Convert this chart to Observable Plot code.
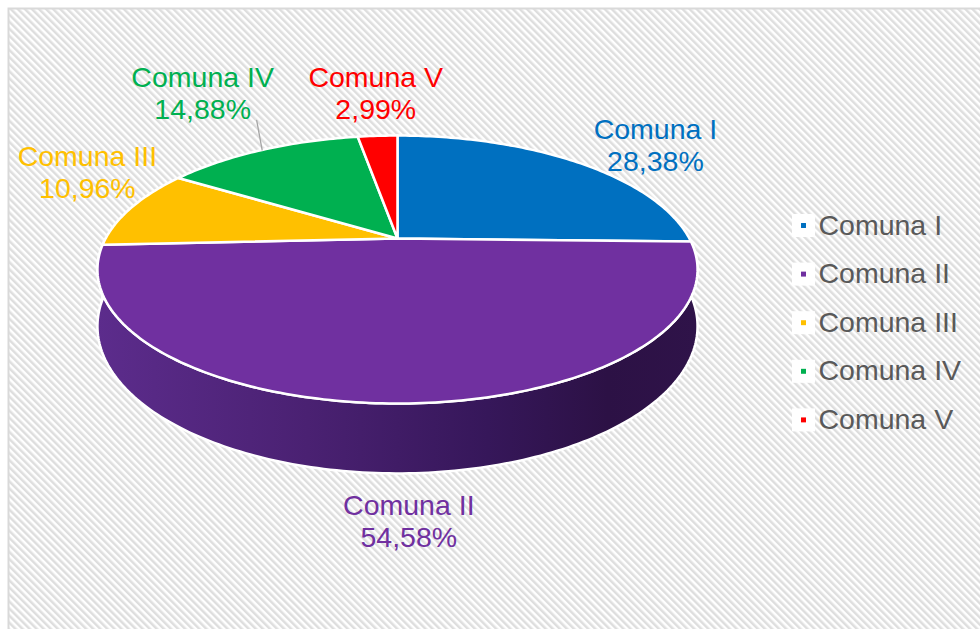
<!DOCTYPE html>
<html>
<head>
<meta charset="utf-8">
<script src="https://cdn.jsdelivr.net/npm/d3@7"></script>
<script src="https://cdn.jsdelivr.net/npm/@observablehq/plot@0.6"></script>
<style>
  html, body { margin: 0; padding: 0; background: #fff; }
  #chart svg { display: block; }
</style>
</head>
<body>
<div id="chart"></div>
<script>
// ---------- data ----------
const categories = ["Comuna I", "Comuna II", "Comuna III", "Comuna IV", "Comuna V"];
const values = [28.38, 54.58, 10.96, 14.88, 2.99];
const colors = ["#0070c0", "#7030a0", "#ffc000", "#00b050", "#ff0000"];

// ---------- layout (pie geometry, label placement) ----------
const W = 980, H = 629;
const CX = 397, CY = 238;      // centre of the pie on the page
const SX = 291.9, SY = 126.8;  // pixels per radius unit (horizontal / vertical)
const K = 0.2314;              // perspective strength of the tilted disc
const DEPTH = 0.424;           // thickness of the pie (radius units)
// label anchor on the disc plane: radius (in pie radii) and angle (deg, clockwise from top)
const labelPlacement = [
  {r: 1.3925, a: 50.0},
  {r: 1.468,  a: 179.0},
  {r: 1.351,  a: 296.4},
  {r: 1.8145, a: 329.9},
  {r: 1.573,  a: 356.3}
];
const leaderLines = [{category: "Comuna IV", r: 1.336, a: 332.6}];
const legendLayout = {markerX: 803, textX: 818, top: 225, step: 48.6};

// ---------- geometry ----------
const rad = d => d * Math.PI / 180;
function project(theta, r = 1, drop = 0) {
  const u = r * Math.sin(rad(theta));
  const v = -r * Math.cos(rad(theta));
  const w = 1 - K * v;
  return {x: u / w, y: (v + drop) / w};
}
const fmt = v => v.toFixed(2).replace(".", ",") + "%";

const total = d3.sum(values);
let acc = 0;
const slices = categories.map((c, i) => {
  const a0 = acc / total * 360;
  acc += values[i];
  const a1 = acc / total * 360;
  return {category: c, value: values[i], color: colors[i], a0, a1, mid: (a0 + a1) / 2, i};
});

function arc(a0, a1, r = 1, drop = 0) {
  const n = Math.max(2, Math.ceil(Math.abs(a1 - a0)));
  return d3.range(n + 1).map(j => project(a0 + (a1 - a0) * j / n, r, drop));
}

const topPts = slices.flatMap(s => {
  const c = project(0, 0);
  return [c, ...arc(s.a0, s.a1), c].map(p => ({...p, id: s.category, color: s.color}));
});

const sidePts = slices.flatMap(s => {
  const b0 = Math.max(s.a0, 90), b1 = Math.min(s.a1, 270);
  if (b1 <= b0) return [];
  const top = arc(b0, b1, 1, 0);
  const bottom = arc(b1, b0, 1, DEPTH);
  return [...top, ...bottom, top[0]].map(p => ({...p, id: s.category}));
});

const labels = slices.map(s => {
  const p = project(labelPlacement[s.i].a, labelPlacement[s.i].r);
  return {...s, lx: p.x, ly: p.y, text: `${s.category}\n${fmt(s.value)}`};
});

const leaderPts = leaderLines.flatMap(l => {
  const s = slices.find(d => d.category === l.category);
  return [project(l.a, l.r), project(s.mid, 1)].map(p => ({...p, id: l.category}));
});

const ux = px => (px - CX) / SX, uy = py => (py - CY) / SY;
const legendRows = slices.map(s => ({
  ...s,
  mx: ux(legendLayout.markerX),
  tx: ux(legendLayout.textX),
  y: uy(legendLayout.top + s.i * legendLayout.step)
}));

const font = "'Liberation Sans', Arial, sans-serif";

const chart = Plot.plot({
  width: W,
  height: H,
  margin: 0,
  style: {fontFamily: font, background: "white"},
  x: {domain: [-CX / SX, (W - CX) / SX], range: [0, W], axis: null},
  y: {domain: [-CY / SY, (H - CY) / SY], range: [0, H], axis: null},
  color: {type: "identity"},
  marks: [
    Plot.frame({fill: "url(#hatch)", stroke: "#d9d9d9", strokeWidth: 2,
                insetLeft: 8, insetTop: 8, insetRight: -4, insetBottom: -4}),
    // side wall
    Plot.line(sidePts, {x: "x", y: "y", z: "id", fill: "url(#sideGrad)",
                        stroke: "white", strokeWidth: 2.5}),
    // top faces
    Plot.line(topPts, {x: "x", y: "y", z: "id", fill: "color",
                       stroke: "white", strokeWidth: 2.5}),
    // leader line
    Plot.line(leaderPts, {x: "x", y: "y", z: "id", stroke: "#a6a6a6", strokeWidth: 1.3}),
    // data labels
    Plot.text(labels, {x: "lx", y: "ly", text: "text", fill: "color",
                       fontSize: 28.5, lineHeight: 1.13, textAnchor: "middle"}),
    // legend
    Plot.dot(legendRows, {x: "mx", y: "y", symbol: "square", r: 13, fill: "white"}),
    Plot.dot(legendRows, {x: "mx", y: "y", symbol: "square", r: 2.8, fill: "color"}),
    Plot.text(legendRows, {x: "tx", y: "y", text: "category", textAnchor: "start",
                           fill: "#595959", fontSize: 28.5})
  ]
});

// pattern + gradient definitions
const defs = d3.select(chart).insert("defs", ":first-child");
const pat = defs.append("pattern")
  .attr("id", "hatch")
  .attr("patternUnits", "userSpaceOnUse")
  .attr("width", 5).attr("height", 5)
  .attr("patternTransform", "rotate(-45)");
pat.append("rect").attr("width", 5).attr("height", 5).attr("fill", "#ffffff");
pat.append("rect").attr("width", 2.5).attr("height", 5).attr("fill", "#dedede");

const grad = defs.append("linearGradient")
  .attr("id", "sideGrad")
  .attr("x1", 0).attr("y1", 0).attr("x2", 1).attr("y2", 0);
[[0, "#5c2c8c"], [0.35, "#4a2172"], [0.65, "#36175a"], [0.85, "#2c1145"], [1, "#2f1349"]]
  .forEach(([o, c]) => grad.append("stop").attr("offset", o).attr("stop-color", c));

document.getElementById("chart").appendChild(chart);
</script>
</body>
</html>
